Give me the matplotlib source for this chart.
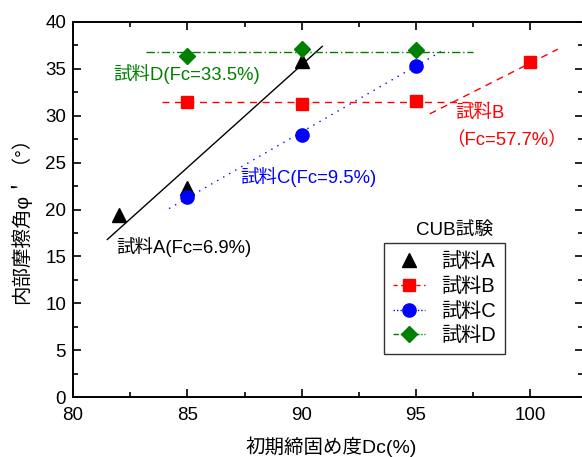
import matplotlib
matplotlib.use("Agg")
import matplotlib.pyplot as plt
from matplotlib.lines import Line2D
from matplotlib.ticker import MultipleLocator

plt.rcParams['font.family'] = ['Liberation Sans', 'Noto Sans CJK JP', 'DejaVu Sans']

# measured points
dc_a = [82, 85, 90]
phi_a = [19.4, 22.3, 35.8]
dc_b = [85, 90, 95, 100]
phi_b = [31.5, 31.3, 31.6, 35.7]
dc_c = [85, 90, 95]
phi_c = [21.3, 28.0, 35.3]
dc_d = [85, 90, 95]
phi_d = [36.4, 37.1, 37.0]

# trend lines (end points)
trend_a_x = [81.5, 90.9]
trend_a_y = [16.8, 37.4]
trend_b1_x = [83.9, 98.2]
trend_b1_y = [31.45, 31.45]
trend_b2_x = [95.6, 101.2]
trend_b2_y = [30.2, 37.1]
trend_c_x = [84.2, 96.2]
trend_c_y = [20.1, 37.0]
trend_d_x = [83.2, 97.5]
trend_d_y = [36.76, 36.76]

legend_labels = ['試料A', '試料B', '試料C', '試料D']

fig = plt.figure(figsize=(5.82, 4.57), dpi=100)
ax = fig.add_axes([73 / 582, 1 - 397 / 457, 510 / 582, 375 / 457])

# trend lines
ax.plot(trend_a_x, trend_a_y, color='black', lw=1.0)
ax.plot(trend_b1_x, trend_b1_y, color='red', lw=1.0, ls=(0, (5, 4)))
ax.plot(trend_b2_x, trend_b2_y, color='red', lw=1.0, ls=(0, (5, 4)))
ax.plot(trend_c_x, trend_c_y, color='blue', lw=1.0, ls=(0, (1, 4)))
ax.plot(trend_d_x, trend_d_y, color='green', lw=1.0, ls=(0, (6, 2, 1, 2)))

# markers
ax.plot(dc_a, phi_a, '^', color='black', ms=10, ls='none')
ax.plot(dc_b, phi_b, 's', color='red', ms=9, ls='none')
ax.plot(dc_c, phi_c, 'o', color='blue', ms=9.5, ls='none')
ax.plot(dc_d, phi_d, 'D', color='green', ms=8.5, ls='none')

# annotations
fs = 13.3
ax.text(81.75, 34.5, '試料D(Fc=33.5%)', color='green', fontsize=fs, va='center')
ax.text(96.7, 30.25, '試料B', color='red', fontsize=fs, va='center')
ax.text(96.3, 27.4, '（Fc=57.7%）', color='red', fontsize=fs, va='center')
ax.text(87.3, 23.5, '試料C(Fc=9.5%)', color='blue', fontsize=fs, va='center')
ax.text(81.9, 16.0, '試料A(Fc=6.9%)', color='black', fontsize=fs, va='center')

ax.set_xlim(80, 102.3)
ax.set_ylim(0, 40)
ax.xaxis.set_major_locator(MultipleLocator(5))
ax.xaxis.set_minor_locator(MultipleLocator(2.5))
ax.yaxis.set_major_locator(MultipleLocator(5))
ax.yaxis.set_minor_locator(MultipleLocator(2.5))
ax.tick_params(which='both', direction='in', top=True, right=True, labelsize=13.5, width=1.2)
ax.tick_params(which='major', length=6)
ax.tick_params(axis='x', pad=7)
ax.tick_params(axis='y', pad=5)
ax.tick_params(which='minor', length=3.5)
for s in ax.spines.values():
    s.set_linewidth(1.4)

ax.set_xlabel('初期締固め度Dc(%)', fontsize=14)
ax.set_ylabel("内部摩擦角φ＇（°）", fontsize=14)
ax.xaxis.set_label_coords(0.507, -0.104)
ax.yaxis.set_label_coords(-0.083, 0.482)

handles = [
    Line2D([], [], marker='^', color='black', ms=10, ls='none'),
    Line2D([], [], marker='s', color='red', ms=9, lw=1.0, ls=(0, (3, 2.5))),
    Line2D([], [], marker='o', color='blue', ms=9.5, lw=1.0, ls=(0, (1, 1.5))),
    Line2D([], [], marker='D', color='green', ms=8.5, lw=1.0, ls=(0, (4, 1.2, 1, 1.2))),
]
leg = ax.legend(handles, legend_labels, loc='upper left', bbox_to_anchor=(0.61, 0.41),
                prop={'size': 14.5}, frameon=True, fancybox=False, edgecolor='black',
                borderaxespad=0, handlelength=1.6, labelspacing=0.28,
                handletextpad=0.8, borderpad=0.45)
leg.get_frame().set_linewidth(1.0)
ax.text(96.7, 17.75, 'CUB試験', fontsize=13.5, ha='center', va='center')

fig.savefig('out.png', dpi=100)
